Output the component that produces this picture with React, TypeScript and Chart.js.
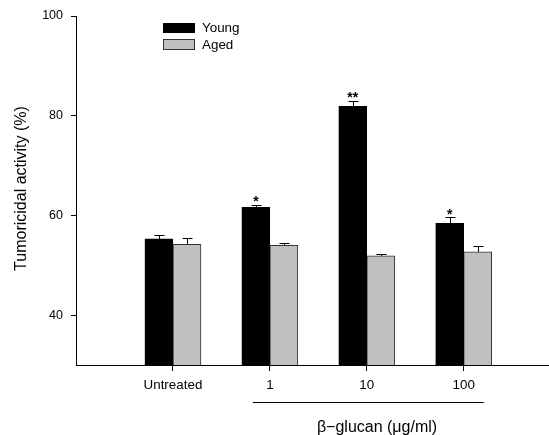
import React, { useEffect, useRef } from "react";
import { Chart, registerables } from "chart.js";

Chart.register(...registerables);

const categories = ["Untreated", "1", "10", "100"];
const youngValues = [55.3, 61.6, 81.9, 58.4];
const youngErrors = [0.8, 0.5, 1.1, 1.2];
const agedValues = [54.2, 54.0, 51.9, 52.7];
const agedErrors = [1.2, 0.5, 0.4, 1.1];
const youngStars = ["", "*", "**", "*"];
const yTicks = [40, 60, 80, 100];
const seriesNames = ["Young", "Aged"];
const FONT = "'Liberation Sans', Arial, sans-serif";

const overlayPlugin = {
  id: "overlay",
  afterDatasetsDraw(chart: any) {
    const ctx = chart.ctx;
    const y = chart.scales.y;
    const x = chart.scales.x;
    const errs = [youngErrors, agedErrors];
    const vals = [youngValues, agedValues];
    ctx.save();
    ctx.strokeStyle = "#000";
    ctx.lineWidth = 1;
    chart.data.datasets.forEach((ds: any, di: number) => {
      const meta = chart.getDatasetMeta(di);
      meta.data.forEach((bar: any, i: number) => {
        const top = y.getPixelForValue(vals[di][i]);
        const et = y.getPixelForValue(vals[di][i] + errs[di][i]);
        const cx = Math.round(bar.x) + 0.5;
        ctx.beginPath();
        ctx.moveTo(cx, top);
        ctx.lineTo(cx, Math.round(et) + 0.5);
        ctx.moveTo(cx - 5, Math.round(et) + 0.5);
        ctx.lineTo(cx + 5, Math.round(et) + 0.5);
        ctx.stroke();
        if (di === 0 && youngStars[i]) {
          ctx.fillStyle = "#000";
          ctx.font = `bold 14px ${FONT}`;
          ctx.textAlign = "center";
          ctx.textBaseline = "alphabetic";
          ctx.fillText(youngStars[i], bar.x, et + 1.5);
        }
      });
    });

    // legend
    const lx = 163;
    const swW = 32;
    const swH = 10;
    ctx.fillStyle = "#000";
    ctx.fillRect(lx, 23, swW, swH);
    ctx.fillStyle = "#c0c0c0";
    ctx.fillRect(lx, 39, swW, swH + 1);
    ctx.strokeStyle = "#333";
    ctx.strokeRect(lx + 0.5, 39.5, swW - 1, swH);
    ctx.fillStyle = "#000";
    ctx.font = `13.4px ${FONT}`;
    ctx.textAlign = "left";
    ctx.textBaseline = "middle";
    ctx.fillText(seriesNames[0], 202, 28.5);
    ctx.fillText(seriesNames[1], 202, 45);

    // y title
    ctx.save();
    ctx.translate(22, 188.5);
    ctx.rotate(-Math.PI / 2);
    ctx.font = `16px ${FONT}`;
    ctx.textAlign = "center";
    ctx.textBaseline = "middle";
    ctx.fillText("Tumoricidal activity (%)", 0, 0);
    ctx.restore();

    // group line and x title
    const x1 = x.getPixelForValue(2) - 17;
    const x2 = x.getPixelForValue(4) + 20;
    ctx.strokeStyle = "#000";
    ctx.beginPath();
    ctx.moveTo(x1, 402.5);
    ctx.lineTo(x2, 402.5);
    ctx.stroke();
    ctx.font = `16px ${FONT}`;
    ctx.textAlign = "center";
    ctx.textBaseline = "middle";
    ctx.fillText("β−glucan (μg/ml)", 377, 428);
    ctx.restore();
  },
};

export default function App() {
  const ref = useRef<HTMLCanvasElement>(null);
  useEffect(() => {
    if (!ref.current) return;
    const chart = new Chart(ref.current, {
      type: "bar",
      data: {
        datasets: [
          {
            label: seriesNames[0],
            data: youngValues.map((v, i) => ({ x: i + 1, y: v })),
            backgroundColor: "#000",
            borderColor: "#000",
            borderWidth: 1,
            barThickness: 28,
          },
          {
            label: seriesNames[1],
            data: agedValues.map((v, i) => ({ x: i + 1, y: v })),
            backgroundColor: "#c0c0c0",
            borderColor: "#333",
            borderWidth: 1,
            barThickness: 28,
          },
        ],
      },
      options: {
        animation: false,
        responsive: false,
        layout: { padding: { left: 0, top: 16, right: 0, bottom: 0 } },
        plugins: { legend: { display: false }, tooltip: { enabled: false } },
        scales: {
          x: {
            type: "linear",
            min: 0,
            max: 4.88,
            offset: false,
            grid: { offset: false, drawOnChartArea: false, drawTicks: true, tickLength: 6, color: "#000" },
            border: { display: true, color: "#000", width: 1 },
            afterBuildTicks: (s: any) => {
              s.ticks = categories.map((_, i) => ({ value: i + 1 }));
            },
            afterFit: (s: any) => {
              s.height = 70;
            },
            ticks: {
              autoSkip: false,
              maxRotation: 0,
              padding: 6,
              color: "#000",
              font: { family: FONT, size: 13.4 },
              callback: (v: any) => categories[Math.round(v) - 1] ?? "",
            },
          },
          y: {
            type: "linear",
            min: 30,
            max: 100,
            grid: { drawOnChartArea: false, drawTicks: true, tickLength: 5, color: "#000" },
            border: { display: true, color: "#000", width: 1 },
            afterBuildTicks: (s: any) => {
              s.ticks = yTicks.map((v) => ({ value: v }));
            },
            afterFit: (s: any) => {
              s.width = 76;
            },
            ticks: {
              padding: 8,
              color: "#000",
              font: { family: FONT, size: 12.5 },
            },
          },
        },
      },
      plugins: [overlayPlugin],
    });
    return () => chart.destroy();
  }, []);
  return (
    <div style={{ position: "fixed", left: 0, top: 0, width: 549, height: 435, background: "#fff" }}>
      <canvas ref={ref} width={549} height={435} style={{ display: "block" }} />
    </div>
  );
}
